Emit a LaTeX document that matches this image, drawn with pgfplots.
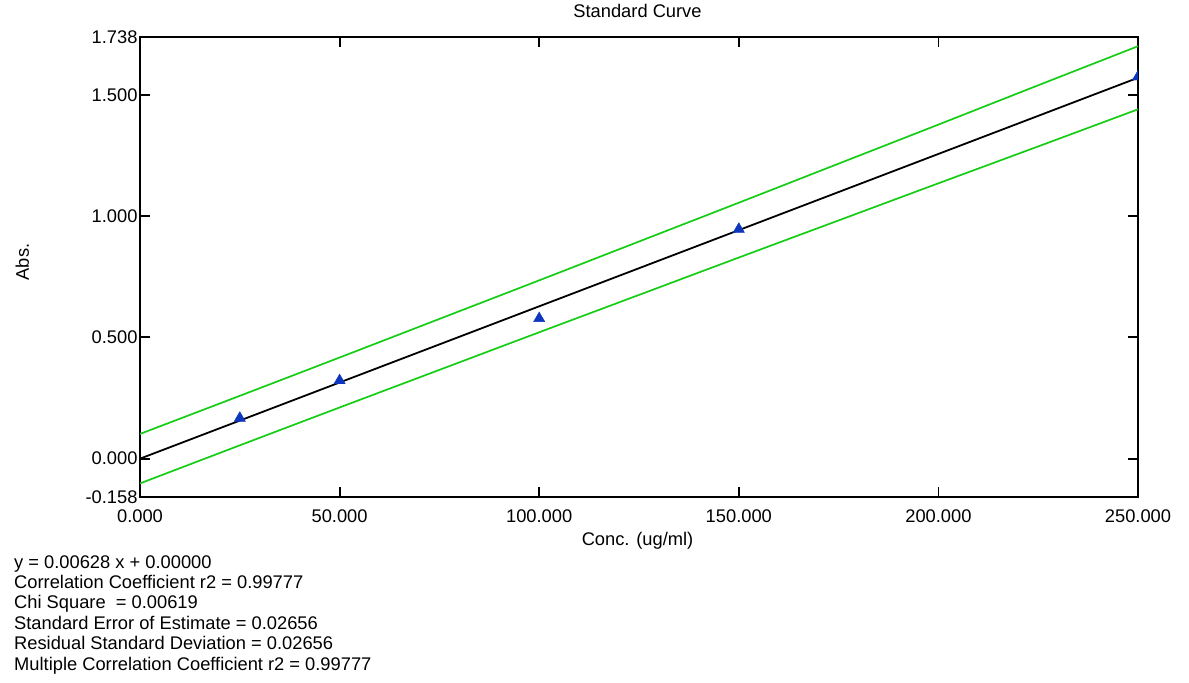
\documentclass[border=0pt]{standalone}
\usepackage{pgfplots}
\pgfplotsset{compat=1.18}
\usepackage{fontspec}
\setmainfont{Liberation Sans}
\definecolor{bandgreen}{RGB}{20,205,20}
\definecolor{markblue}{RGB}{15,55,190}
\newcommand{\f}{\fontsize{18.3bp}{21bp}\selectfont}
\begin{document}
\begin{tikzpicture}
\path[use as bounding box] (0,0) rectangle (1189bp,-683bp);
\begin{axis}[
  at={(140bp,-497bp)}, anchor=south west,
  scale only axis, width=998bp, height=460bp,
  xmin=0, xmax=250, ymin=-0.158, ymax=1.738,
  xtick={0,50,100,150,200,250},
  xticklabels={0.000,50.000,100.000,150.000,200.000,250.000},
  ytick={-0.158,0,0.5,1,1.5,1.738},
  yticklabels={-0.158,0.000,0.500,1.000,1.500,1.738},
  tick align=inside,
  major tick length=10bp,
  tick style={line width=1.8bp, black},
  axis line style={line width=2.3bp, black},
  ticklabel style={font=\f},
  xticklabel style={yshift=-9bp},
  yticklabel style={xshift=1bp},
  title={Standard Curve},
  title style={font=\f, at={(axis description cs:0.4985,1.0435)}, anchor=center},
  xlabel={Conc. (ug/ml)},
  xlabel style={font=\f, at={(axis description cs:0.4985,-0.095)}, anchor=center},
  ylabel={Abs.},
  ylabel style={font=\f, at={(axis description cs:-0.118,0.511)}, anchor=center, rotate=0},
  clip marker paths=true,
]
\addplot[bandgreen, line width=1.7bp, smooth] coordinates {
 (0,0.102) (25,0.259) (50,0.417) (75,0.576) (100,0.735) (125,0.895) (150,1.055) (175,1.216) (200,1.377) (225,1.539) (250,1.700)};
\addplot[bandgreen, line width=1.7bp, smooth] coordinates {
 (0,-0.102) (25,0.055) (50,0.211) (75,0.366) (100,0.521) (125,0.675) (150,0.829) (175,0.982) (200,1.135) (225,1.287) (250,1.440)};
\addplot[black, line width=1.8bp] coordinates {(0,0) (250,1.570)};
\addplot[only marks, mark=triangle*, mark size=6.5bp, markblue, mark options={draw=markblue, fill=markblue}] coordinates {
 (25,0.167) (50,0.322) (100,0.578) (150,0.946) (250,1.574)};
\end{axis}
\node[anchor=base west, inner sep=0, font=\f] at (14bp,-568bp) {y = 0.00628 x + 0.00000};
\node[anchor=base west, inner sep=0, font=\f] at (14bp,-588.4bp) {Correlation Coefficient r2 = 0.99777};
\node[anchor=base west, inner sep=0, font=\f] at (14bp,-608.8bp) {Chi Square \ = 0.00619};
\node[anchor=base west, inner sep=0, font=\f] at (14bp,-629.2bp) {Standard Error of Estimate = 0.02656};
\node[anchor=base west, inner sep=0, font=\f] at (14bp,-649.6bp) {Residual Standard Deviation = 0.02656};
\node[anchor=base west, inner sep=0, font=\f] at (14bp,-670bp) {Multiple Correlation Coefficient r2 = 0.99777};
\end{tikzpicture}
\end{document}
